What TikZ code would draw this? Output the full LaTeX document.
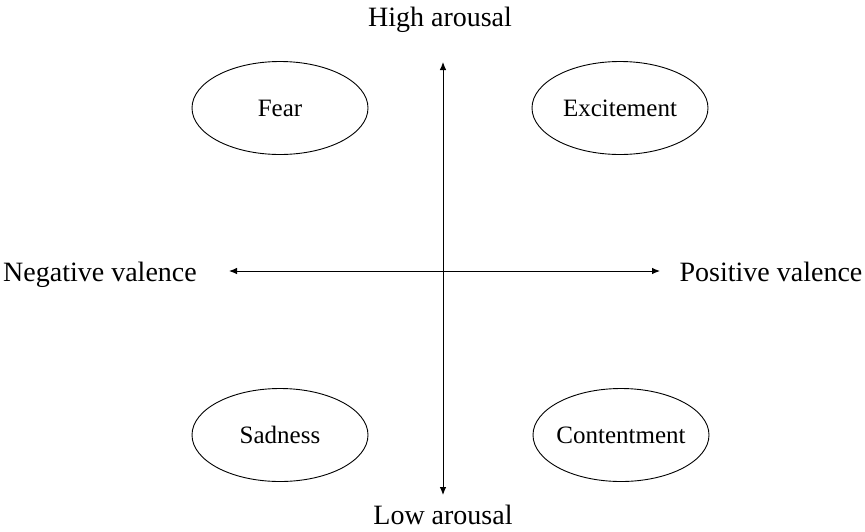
\documentclass[tikz,border=0pt]{standalone}
\usepackage{fontspec}
\setmainfont{Liberation Serif}
\usetikzlibrary{shapes.geometric,arrows.meta}

% ellipse labels take no width, so every ellipse keeps the same size
\newcommand{\emolabel}[1]{\makebox[0pt][c]{#1}}

\begin{document}
\begin{tikzpicture}[x=1pt,y=-1pt,
    axis/.style={line width=0.9pt, -{Latex[length=8pt,width=6.5pt]}},
    emotion/.style={draw, ellipse, line width=0.9pt, minimum width=176pt,
      minimum height=93pt, inner sep=0pt, font=\fontsize{25}{30}\selectfont},
    axislabel/.style={font=\fontsize{28}{33}\selectfont, inner sep=0pt, anchor=base}]
  \useasboundingbox (0,0) rectangle (865,531);

  % centre of the two axes and their free ends
  \coordinate (o) at (443,271);
  \coordinate (top) at (443,62);
  \coordinate (bottom) at (443,495);
  \coordinate (left) at (229,271);
  \coordinate (right) at (660,271);

  \draw[axis] (o) -- (top);
  \draw[axis] (o) -- (bottom);
  \draw[axis] (o) -- (left);
  \draw[axis] (o) -- (right);

  % axis labels
  \node[axislabel] (high) at (440,26) {High arousal};
  \node[axislabel] (low) at (443,524) {Low arousal};
  \node[axislabel] (neg) at (100,281) {Negative valence};
  \node[axislabel] (pos) at (771,281) {Positive valence};

  % emotions in the four quadrants
  \node[emotion] (fear) at (280,108) {\emolabel{Fear}};
  \node[emotion] (excite) at (620,108) {\emolabel{Excitement}};
  \node[emotion] (sad) at (280,435) {\emolabel{Sadness}};
  \node[emotion] (content) at (621,435) {\emolabel{Contentment}};
\end{tikzpicture}
\end{document}
